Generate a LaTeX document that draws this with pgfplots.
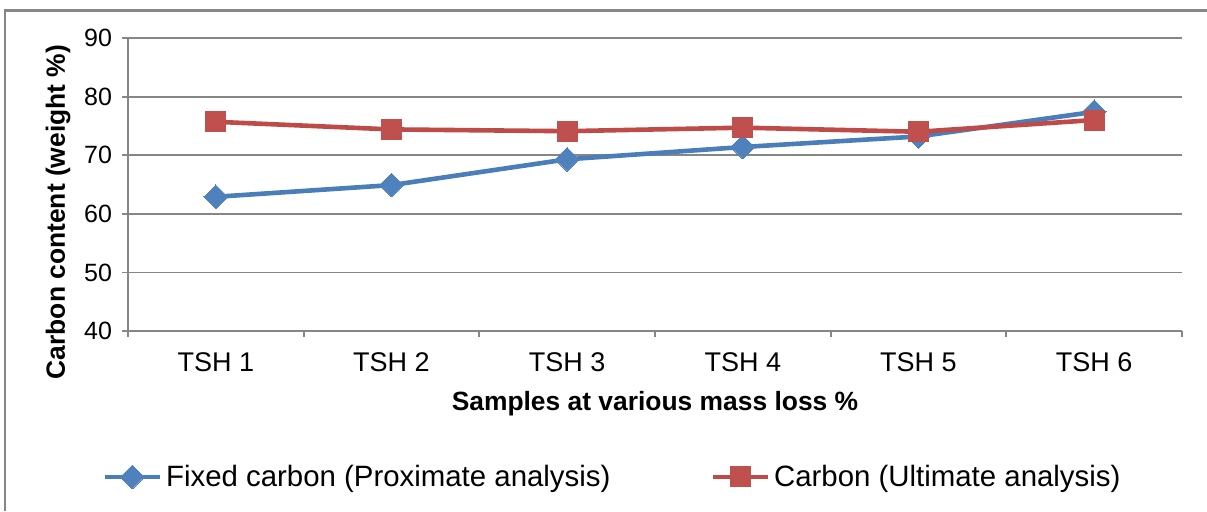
\documentclass[border=0pt]{standalone}
\usepackage{fontspec}
\setmainfont{Liberation Sans}
\usepackage{pgfplots}
\pgfplotsset{compat=1.18}
\definecolor{bline}{HTML}{4A7EBB}
\definecolor{bmark}{HTML}{4F81BD}
\definecolor{rline}{HTML}{BE4B48}
\definecolor{rmark}{HTML}{C0504D}
\definecolor{gridc}{HTML}{868686}
\begin{document}
\begin{tikzpicture}
\useasboundingbox (0,0) rectangle (603.5pt,255.5pt);
\draw[gridc, line width=1.2pt] (2.6pt,0pt) -- (2.6pt,250.25pt) -- (603.5pt,250.25pt);
\begin{axis}[
  at={(64pt,90pt)}, anchor=south west,
  width=527pt, height=146.5pt, scale only axis,
  xmin=0.5, xmax=6.5, ymin=40, ymax=90,
  ytick={40,50,...,90},
  xtick={1,...,6},
  xticklabels={TSH 1,TSH 2,TSH 3,TSH 4,TSH 5,TSH 6},
  minor xtick={0.5,1.5,...,6.5},
  axis x line*=bottom, axis y line*=left,
  axis line style={gridc, line width=0.9pt, -},
  ymajorgrids, grid style={gridc, line width=0.9pt},
  tick align=outside,
  major tick length=3pt, minor tick length=3pt,
  x tick style={draw=none},
  minor x tick style={draw=gridc, line width=0.9pt},
  y tick style={draw=gridc, line width=0.9pt},
  xticklabel style={font=\fontsize{13.5}{15}\selectfont, yshift=-4.5pt},
  yticklabel style={font=\fontsize{12.5}{14}\selectfont, xshift=-1.5pt},
  /pgf/number format/assume math mode=true,
  xlabel={Samples at various mass loss \%},
  ylabel={Carbon content (weight \%)},
  label style={font=\fontsize{13.2}{15}\bfseries\selectfont},
  xlabel style={at={(axis description cs:0.5,0)}, anchor=center, yshift=-36.5pt},
  ylabel style={at={(axis description cs:-0.0664,0.406)}, anchor=center},
  legend columns=2,
  legend style={draw=none, fill=none, at={(0.4606,-0.498)}, anchor=center,
    font=\fontsize{14.7}{17}\selectfont,
    /tikz/every even column/.append style={column sep=48pt}},
  legend cell align=left,
  legend image code/.code={
    \draw[#1, mark repeat=2, mark phase=2] plot coordinates {(0pt,0pt) (13.75pt,0pt) (27.5pt,0pt)};},
]
\addplot[color=bline, line width=2.3pt, mark=square*, mark size=4.2pt,
  mark options={rotate=45, fill=bmark, draw=bmark, line width=0pt}]
  coordinates {(1,62.9) (2,64.9) (3,69.3) (4,71.4) (5,73.2) (6,77.4)};
\addlegendentry{Fixed carbon (Proximate analysis)}
\addplot[color=rline, line width=2.3pt, mark=square*, mark size=5pt,
  mark options={fill=rmark, draw=rmark, line width=0pt}]
  coordinates {(1,75.7) (2,74.4) (3,74.1) (4,74.7) (5,74.0) (6,76.0)};
\addlegendentry{Carbon (Ultimate analysis)}
\end{axis}
\end{tikzpicture}
\end{document}
